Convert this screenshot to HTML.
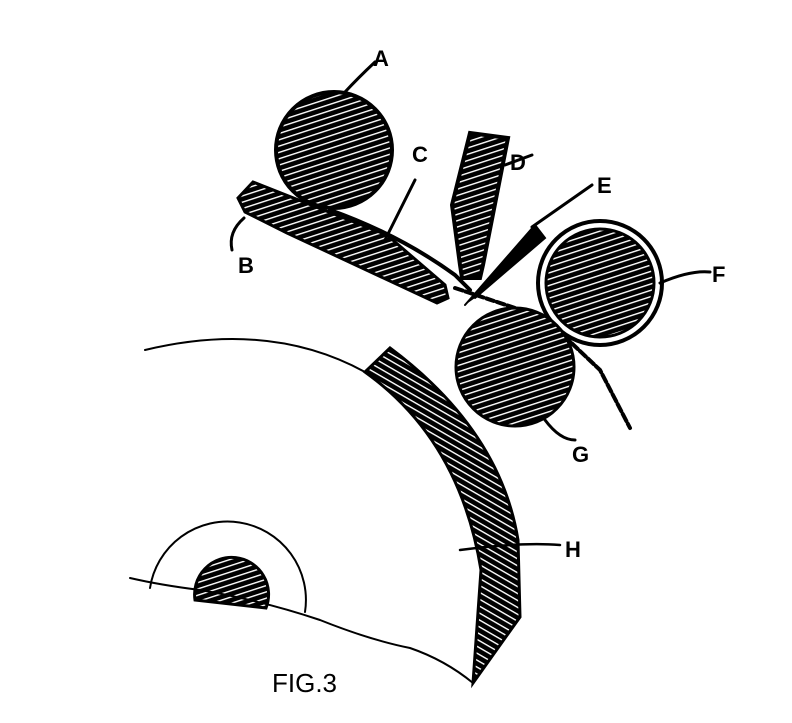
<!DOCTYPE html>
<html><head><style>html,body{margin:0;padding:0;background:#fff}svg{display:block}</style></head>
<body>
<svg width="792" height="723" viewBox="0 0 792 723" xmlns="http://www.w3.org/2000/svg">
<defs>
<pattern id="h" width="6" height="6" patternUnits="userSpaceOnUse" patternTransform="rotate(-18)">
<rect width="6" height="6" fill="#000"/><rect y="2.5" width="6" height="1.4" fill="#fff"/>
</pattern>
<pattern id="h2" width="6" height="6" patternUnits="userSpaceOnUse" patternTransform="rotate(30)">
<rect width="6" height="6" fill="#000"/><rect y="2.5" width="6" height="1.4" fill="#fff"/>
</pattern>
</defs>
<g stroke="#000" fill="none" stroke-linecap="round">
<!-- A -->
<circle cx="334" cy="150" r="58" fill="url(#h)" stroke-width="4"/>
<path d="M345 92 Q358 78 375 62" stroke-width="3"/>
<!-- B bar -->
<path d="M253 182 L387 235 L445 285 L448 298 L437 303 L287 233 L245 212 L238 198 Z" fill="url(#h)" stroke-width="3"/>
<path d="M244 218 Q228 232 232 250" stroke-width="3"/>
<!-- C -->
<path d="M330 210 Q400 235 455 275 L470 290" stroke-width="4"/>
<path d="M385 240 L415 180" stroke-width="3"/>
<!-- D -->
<path d="M470 133 L508 138 L483 265 L480 278 L462 278 L460 265 L452 205 Z" fill="url(#h)" stroke-width="4"/>
<path d="M505 165 L532 155" stroke-width="3"/>
<!-- E -->
<path d="M465 305 L535 225 L545 238 L475 298" fill="#000" stroke-width="2"/>
<path d="M532 227 L592 185" stroke-width="3"/>
<!-- paper line -->
<path d="M455 288 L545 318 L600 370 L630 428" stroke-width="4" stroke-dasharray="8 3"/>
<!-- F -->
<circle cx="600" cy="283" r="62" fill="#fff" stroke-width="4"/>
<circle cx="600" cy="283" r="54" fill="url(#h)" stroke-width="3"/>
<path d="M660 283 Q690 270 710 272" stroke-width="3"/>
<!-- G -->
<circle cx="515" cy="367" r="59" fill="url(#h)" stroke-width="3"/>
<path d="M545 420 Q560 440 575 440" stroke-width="3"/>
<!-- large wheel -->
<path d="M145 350 Q270 320 365 372" stroke-width="2"/>
<path d="M365 372 Q460 440 481 570 L473 683 L520 617 L518 540 Q500 430 390 348 Z" fill="url(#h2)" stroke-width="3"/>
<path d="M460 550 Q520 542 560 545" stroke-width="2.5"/>
<!-- hub -->
<path d="M150 588 A78 78 0 1 1 305 612" stroke-width="2"/>
<path d="M195 600 A37 37 0 1 1 266 608 Z" fill="url(#h)" stroke-width="3"/>
<!-- ground line -->
<path d="M130 578 Q160 585 200 590 Q260 600 320 620 Q370 640 410 648 Q445 660 473 683" stroke-width="2"/>
</g>
<g font-family="Liberation Sans, sans-serif" font-weight="bold" font-size="22" fill="#000">
<text x="373" y="66">A</text>
<text x="412" y="162">C</text>
<text x="510" y="170">D</text>
<text x="597" y="193">E</text>
<text x="712" y="282">F</text>
<text x="238" y="273">B</text>
<text x="572" y="462">G</text>
<text x="565" y="557">H</text>
<text x="272" y="692" font-size="26" font-weight="normal">FIG.3</text>
</g>
</svg>
</body></html>
